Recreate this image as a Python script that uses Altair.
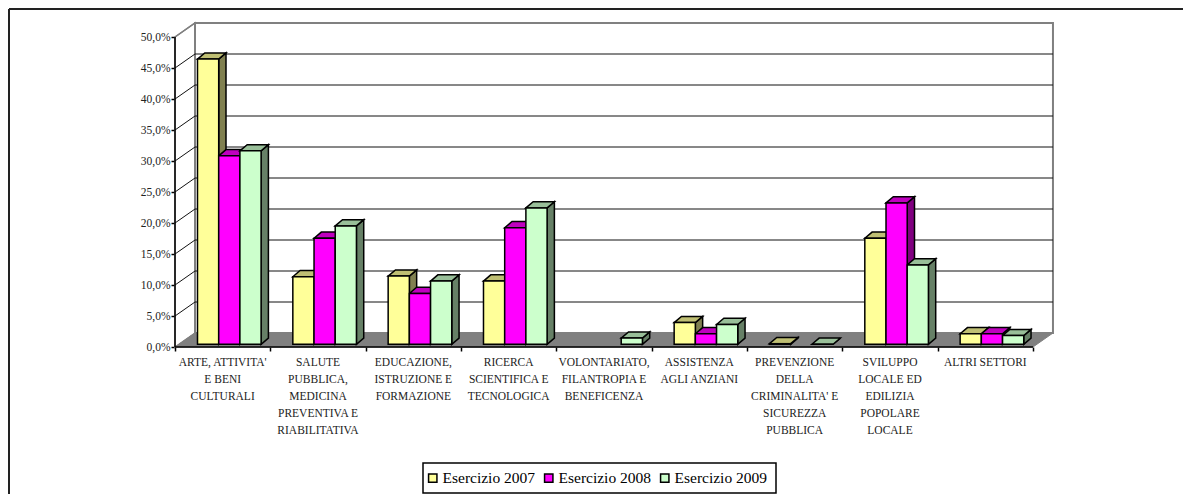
import altair as alt
import pandas as pd

categories = [
    "ARTE, ATTIVITA'\nE BENI\nCULTURALI",
    "SALUTE\nPUBBLICA,\nMEDICINA\nPREVENTIVA E\nRIABILITATIVA",
    "EDUCAZIONE,\nISTRUZIONE E\nFORMAZIONE",
    "RICERCA\nSCIENTIFICA E\nTECNOLOGICA",
    "VOLONTARIATO,\nFILANTROPIA E\nBENEFICENZA",
    "ASSISTENZA\nAGLI ANZIANI",
    "PREVENZIONE\nDELLA\nCRIMINALITA' E\nSICUREZZA\nPUBBLICA",
    "SVILUPPO\nLOCALE ED\nEDILIZIA\nPOPOLARE\nLOCALE",
    "ALTRI SETTORI",
]
series = ["Esercizio 2007", "Esercizio 2008", "Esercizio 2009"]
v2007 = [46.0, 10.9, 11.0, 10.2, None, 3.5, 0.1, 17.1, 1.7]
v2008 = [30.4, 17.1, 8.2, 18.8, None, 1.7, None, 22.8, 1.7]
v2009 = [31.2, 19.1, 10.2, 22.0, 1.0, 3.2, 0.0, 12.8, 1.4]
front_colors = ["#FFFF99", "#FF00FF", "#CCFFCC"]
top_colors = ["#BFBF73", "#BF00BF", "#99BF99"]
side_colors = ["#808050", "#800080", "#668066"]
y_ticks = [0, 5, 10, 15, 20, 25, 30, 35, 40, 45, 50]
x_ticks = list(range(10))

# 3-D geometry, in data units
CAT_PX, VAL_PX = 95.33, 6.2
WALL_DX, WALL_DY = 20 / CAT_PX, 14 / VAL_PX
BAR_W = 21.2 / CAT_PX
BAR_START = 22.5 / CAT_PX
BAR_DX, BAR_DY = 7.3 / CAT_PX, 6.2 / VAL_PX
BASE = 2.7 / VAL_PX
XMAX = 9 + WALL_DX
YMAX = 50 + WALL_DY

PLOT_W = 9 * CAT_PX + 20
PLOT_H = 50 * VAL_PX + 14
TOTAL_W, TOTAL_H = 1175, 486
PAD_L, PAD_T = 167, 15
FONT = "Liberation Serif"

front, tops, sides = [], [], []
for si, (name, vals) in enumerate(zip(series, [v2007, v2008, v2009])):
    for ci, v in enumerate(vals):
        if v is None:
            continue
        xl = ci + BAR_START + si * BAR_W
        xr = xl + BAR_W
        yt = BASE + v
        front.append(dict(s=name, xl=xl, xr=xr, y0=BASE, y1=yt))
        key = f"{si}-{ci}"
        for x, a, b in [(xl, yt, yt), (xl + BAR_DX, yt + BAR_DY, yt),
                        (xr, yt + BAR_DY, yt), (xr + BAR_DX, yt + BAR_DY, yt + BAR_DY)]:
            tops.append(dict(k=key, x=x, a=a, b=b, f=top_colors[si]))
        for x, a, b in [(xr, yt, BASE), (xr + BAR_DX, yt + BAR_DY, BASE + BAR_DY)]:
            sides.append(dict(k=key, x=x, a=a, b=b, f=side_colors[si]))

xs = alt.Scale(domain=[0, XMAX], range=[0, PLOT_W], nice=False, zero=False)
ys = alt.Scale(domain=[0, YMAX], range=[PLOT_H, 0], nice=False, zero=False)
x_ax = alt.Axis(
    values=x_ticks, domain=False, tickColor="black", tickSize=4, tickWidth=1.5,
    grid=False, title=None, labels=False,
)
y_ax = alt.Axis(
    values=y_ticks, domain=False, tickColor="black", tickSize=4, tickWidth=1.5,
    grid=False, title=None, labelFont=FONT, labelFontSize=11.5, labelColor="#222222",
    labelPadding=1, labelExpr="replace(format(datum.value,'.1f'),'.',',')+'%'",
)
X = lambda f: alt.X(f, type="quantitative", scale=xs, axis=x_ax)
Y = lambda f: alt.Y(f, type="quantitative", scale=ys, axis=y_ax, stack=None)


def poly(rows, **kw):
    return alt.Chart(pd.DataFrame(rows)).mark_area(**kw).encode(
        x=X("x"), y=Y("a"), y2="b", detail="k:N"
    )


# walls and floor
left_wall = poly(
    [dict(k="w", x=0, a=50, b=0), dict(k="w", x=WALL_DX, a=YMAX, b=WALL_DY)],
    fill="white", stroke="#808080", strokeWidth=1.5,
)
back_wall = poly(
    [dict(k="b", x=WALL_DX, a=YMAX, b=WALL_DY), dict(k="b", x=XMAX, a=YMAX, b=WALL_DY)],
    fill="white", stroke="#808080", strokeWidth=2,
)
floor = poly(
    [dict(k="f", x=0, a=0, b=0), dict(k="f", x=WALL_DX, a=WALL_DY, b=0),
     dict(k="f", x=9, a=WALL_DY, b=0), dict(k="f", x=XMAX, a=WALL_DY, b=WALL_DY)],
    fill="#808080", stroke="#808080", strokeWidth=1,
)

# gridlines
grid_df = pd.DataFrame([dict(t=t, x0=WALL_DX, x1=XMAX, y=t + WALL_DY) for t in y_ticks[1:-1]])
grid_back = alt.Chart(grid_df).mark_rule(color="#111111", strokeWidth=1).encode(
    x=X("x0"), x2="x1", y=Y("y")
)
diag_rows = []
for t in y_ticks[1:]:
    diag_rows += [dict(t=t, x=0, y=t), dict(t=t, x=WALL_DX, y=t + WALL_DY)]
grid_left = alt.Chart(pd.DataFrame([r for r in diag_rows if r["t"] < 50])).mark_line(
    color="#111111", strokeWidth=1
).encode(x=X("x"), y=Y("y"), detail="t:N")
top_left = alt.Chart(pd.DataFrame([r for r in diag_rows if r["t"] == 50])).mark_line(
    color="#808080", strokeWidth=1.5
).encode(x=X("x"), y=Y("y"))

# bars
side_layer = alt.Chart(pd.DataFrame(sides)).mark_area(stroke="black", strokeWidth=1.5).encode(
    x=X("x"), y=Y("a"), y2="b", detail="k:N", fill=alt.Fill("f:N", scale=None)
)
top_layer = alt.Chart(pd.DataFrame(tops)).mark_area(stroke="black", strokeWidth=1.5).encode(
    x=X("x"), y=Y("a"), y2="b", detail="k:N", fill=alt.Fill("f:N", scale=None)
)
front_layer = alt.Chart(pd.DataFrame(front)).mark_bar(stroke="black", strokeWidth=1.5).encode(
    x=X("xl"), x2="xr", y=Y("y0"), y2="y1",
    color=alt.Color(
        "s:N",
        scale=alt.Scale(domain=series, range=front_colors),
        legend=alt.Legend(
            title=None, orient="none", legendX=250, legendY=447, direction="horizontal",
            columns=3, columnPadding=5, padding=0,
            labelFont=FONT, labelFontSize=15.5, labelColor="black", labelLimit=200,
            labelOffset=2, symbolType="square", symbolSize=70,
            symbolStrokeColor="black", symbolStrokeWidth=1.5,
        ),
    ),
)

# frame round the legend
legend_box = alt.Chart(pd.DataFrame({"n": [0]})).mark_rect(
    fill="white", stroke="black", strokeWidth=1.5
).encode(
    x=alt.value(248), x2=alt.value(601), y=alt.value(440), y2=alt.value(470)
)

x_line = alt.Chart(pd.DataFrame({"a": [0], "b": [9], "y": [0]})).mark_rule(
    color="black", strokeWidth=1.5
).encode(x=X("a"), x2="b", y=Y("y"))
y_line = alt.Chart(pd.DataFrame({"a": [0], "b": [50], "x": [0]})).mark_rule(
    color="black", strokeWidth=1.5
).encode(y=Y("a"), y2="b", x=X("x"))

labels_df = pd.DataFrame({"c": categories, "p": [i + 0.5 for i in range(9)]})
cat_labels = alt.Chart(labels_df).mark_text(
    font=FONT, fontSize=11.5, color="#222222", lineBreak="\n", lineHeight=17,
    baseline="top", align="center",
).encode(x=X("p"), y=alt.value(PLOT_H + 10), text="c:N")

# outer frame: left and top edges only
frame_left = alt.Chart(pd.DataFrame({"n": [0]})).mark_rule(color="#222222", strokeWidth=2).encode(
    x=alt.value(1 - PAD_L), y=alt.value(1 - PAD_T), y2=alt.value(TOTAL_H - PAD_T)
)
frame_top = alt.Chart(pd.DataFrame({"n": [0]})).mark_rule(color="#222222", strokeWidth=2).encode(
    y=alt.value(1 - PAD_T), x=alt.value(1 - PAD_L), x2=alt.value(TOTAL_W - PAD_L)
)

chart = alt.layer(
    frame_left, frame_top, legend_box, left_wall, back_wall, grid_back, grid_left, top_left, floor,
    y_line, x_line, side_layer, top_layer, front_layer, cat_labels,
).properties(
    width=PLOT_W, height=PLOT_H,
    autosize=alt.AutoSizeParams(type="none"),
    padding={"left": PAD_L, "top": PAD_T, "right": TOTAL_W - PAD_L - PLOT_W,
             "bottom": TOTAL_H - PAD_T - PLOT_H},
    background="white",
).configure_view(stroke=None)

chart.save("out.html", embed_options={"renderer": "svg", "actions": False})
